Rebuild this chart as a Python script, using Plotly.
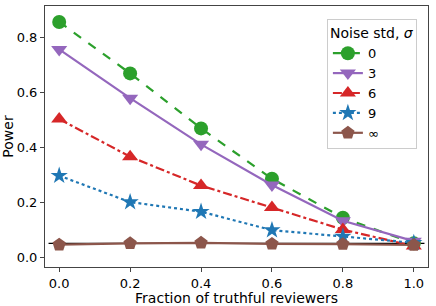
import plotly.graph_objects as go

fractions = [0.0, 0.2, 0.4, 0.6, 0.8, 1.0]
series_names = ["0", "3", "6", "9", "∞"]
power_sigma0 = [0.855, 0.668, 0.468, 0.285, 0.143, 0.05]
power_sigma3 = [0.755, 0.578, 0.41, 0.262, 0.132, 0.058]
power_sigma6 = [0.502, 0.365, 0.26, 0.18, 0.1, 0.04]
power_sigma9 = [0.296, 0.2, 0.165, 0.098, 0.075, 0.052]
power_sigmainf = [0.045, 0.05, 0.052, 0.048, 0.047, 0.044]
alpha_level = 0.05

colors = ["#2ca02c", "#9467bd", "#d62728", "#1f77b4", "#8c564b"]
dashes = ["dash", "solid", "dashdot", "dot", "solid"]
symbols = ["circle", "triangle-down", "triangle-up", "star", "pentagon"]
sizes = [14, 14, 14, 13, 14]
all_series = [power_sigma0, power_sigma3, power_sigma6, power_sigma9, power_sigmainf]

fig = go.Figure()
for name, ys, c, d, s, sz in zip(series_names, all_series, colors, dashes, symbols, sizes):
    fig.add_trace(go.Scatter(
        x=fractions, y=ys, name=name, mode="lines+markers",
        line=dict(color=c, dash=d, width=2.2),
        marker=dict(symbol=s, size=sz, color=c, line=dict(width=0)),
    ))

fig.add_shape(type="line", xref="x", yref="y", x0=-0.03, x1=1.03,
              y0=alpha_level, y1=alpha_level, line=dict(color="black", width=1.2),
              layer="below")

axis_common = dict(showline=True, mirror=True, linecolor="#444", linewidth=1,
                   ticks="outside", ticklen=4, tickcolor="#444", showgrid=False,
                   zeroline=False, automargin=False, tickfont=dict(size=13, color="black"))

fig.update_layout(
    width=436, height=306,
    margin=dict(l=45, r=8, t=6, b=39),
    paper_bgcolor="white", plot_bgcolor="white",
    font=dict(family="DejaVu Sans", size=13, color="black"),
    xaxis=dict(range=[-0.04, 1.04], tickvals=[0, 0.2, 0.4, 0.6, 0.8, 1.0],
               ticktext=["0.0", "0.2", "0.4", "0.6", "0.8", "1.0"],
               title=dict(text="Fraction of truthful reviewers", font=dict(size=14), standoff=2),
               **axis_common),
    yaxis=dict(range=[-0.036, 0.913], tickvals=[0, 0.2, 0.4, 0.6, 0.8],
               ticktext=["0.0", "0.2", "0.4", "0.6", "0.8"],
               title=dict(text="Power", font=dict(size=14), standoff=4),
               **axis_common),
    legend=dict(title=dict(text="Noise std, <i>σ</i>", font=dict(size=14), side="top center"),
                x=0.971, y=0.95, xanchor="right", yanchor="top",
                bgcolor="rgba(255,255,255,0.8)", bordercolor="#ccc", borderwidth=1,
                font=dict(size=13), itemwidth=30, tracegroupgap=0),
    showlegend=True,
)

fig.write_html("out.html", config={"displayModeBar": False},
               post_script="document.body.style.margin='0';document.body.style.overflow='hidden';")
